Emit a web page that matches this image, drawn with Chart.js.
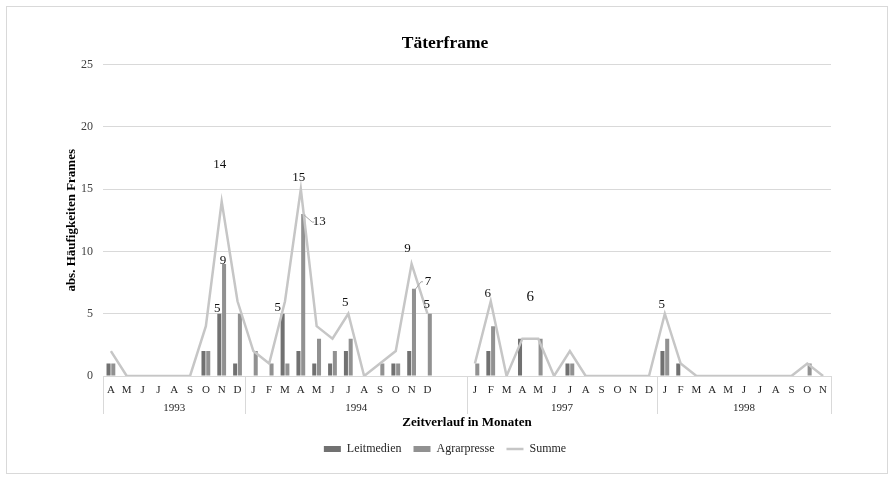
<!DOCTYPE html>
<html><head><meta charset="utf-8">
<script src="https://cdn.jsdelivr.net/npm/chart.js@4.4.0/dist/chart.umd.min.js"></script>
<style>html,body{margin:0;padding:0;background:#fff}canvas{display:block}</style>
</head><body>
<canvas id="c" width="895" height="480"></canvas>
<script>
// ---- data ----
const months = ['A','M','J','J','A','S','O','N','D',
  'J','F','M','A','M','J','J','A','S','O','N','D','','',
  'J','F','M','A','M','J','J','A','S','O','N','D',
  'J','F','M','A','M','J','J','A','S','O','N'];
const yearLabels = ['1993','1994','1997','1998'];
const yearMonthCounts = [9, 14, 12, 11];
const leitmedien = [1,0,0,0,0,0,2,5,1,
  0,0,5,2,1,1,2,0,0,1,2,0,null,null,
  0,2,0,3,0,0,1,0,0,0,0,0,
  2,1,0,0,0,0,0,0,0,0,0];
const agrarpresse = [1,0,0,0,0,0,2,9,5,
  2,1,1,13,3,2,3,0,1,1,7,5,null,null,
  1,4,0,0,3,0,1,0,0,0,0,0,
  3,0,0,0,0,0,0,0,0,1,0];
const summe = [2,0,0,0,0,0,4,14,6,
  2,1,6,15,4,3,5,0,1,2,9,5,null,null,
  1,6,0,3,3,0,2,0,0,0,0,0,
  5,1,0,0,0,0,0,0,0,1,0];
const yMax = 25, yStep = 5;

// labels shown on the chart (dataset index, category index) and a stray label
const valueLabels = [
  {ds:2,i:7,dx:-2,dy:-37},
  {ds:1,i:7,dx:-1,dy:-3},
  {ds:0,i:7,dx:-2,dy:-5},
  {ds:0,i:11,dx:-5,dy:-6},
  {ds:2,i:12,dx:-2,dy:-12},
  {ds:1,i:12,dx:16,dy:8,leader:true},
  {ds:2,i:15,dx:-3,dy:-11},
  {ds:2,i:19,dx:-4,dy:-15},
  {ds:1,i:19,dx:14,dy:-7,leader:true},
  {ds:1,i:20,dx:-3,dy:-9},
  {ds:2,i:24,dx:-3,dy:-8},
  {ds:2,i:35,dx:-3,dy:-9}
];
const strayLabels = [{text:'6', at:26.5, value:6.3}];

const FONT = "'Liberation Serif', 'Times New Roman', serif";
Chart.defaults.font.family = FONT;
Chart.defaults.color = '#262626';

const framePlugin = {
  id:'frame',
  beforeDraw(chart){
    const ctx = chart.ctx;
    ctx.save();
    ctx.fillStyle = '#fff';
    ctx.fillRect(0,0,chart.width,chart.height);
    ctx.strokeStyle = '#d9d9d9';
    ctx.lineWidth = 1;
    ctx.strokeRect(6.5,6.5,881,467);
    ctx.restore();
  }
};

const yearPlugin = {
  id:'years',
  afterDraw(chart){
    const x = chart.scales.x, ctx = chart.ctx;
    const half = (x.getPixelForValue(1)-x.getPixelForValue(0))/2;
    const top = chart.chartArea.bottom, bot = top + 38;
    ctx.save();
    ctx.strokeStyle = '#d9d9d9'; ctx.lineWidth = 1;
    ctx.fillStyle = '#262626';
    ctx.font = '11px ' + FONT;
    ctx.textAlign = 'center'; ctx.textBaseline = 'middle';
    let start = 0;
    yearLabels.forEach((lab,g)=>{
      const end = start + yearMonthCounts[g] - 1;
      const l = x.getPixelForValue(start) - half;
      const r = x.getPixelForValue(end) + half;
      const lines = g === yearLabels.length-1 ? [l,r] : [l];
      lines.forEach(px=>{
        const xx = Math.round(px)+0.5;
        ctx.beginPath(); ctx.moveTo(xx,top); ctx.lineTo(xx,bot); ctx.stroke();
      });
      ctx.fillText(lab,(l+r)/2,top+32);
      start = end + 1;
    });
    ctx.restore();
  }
};

const labelPlugin = {
  id:'vlabels',
  afterDatasetsDraw(chart){
    const ctx = chart.ctx;
    ctx.save();
    ctx.fillStyle = '#111';
    ctx.textAlign = 'center'; ctx.textBaseline = 'middle';
    ctx.font = '13px ' + FONT;
    valueLabels.forEach(s=>{
      const el = chart.getDatasetMeta(s.ds).data[s.i];
      const v = chart.data.datasets[s.ds].data[s.i];
      const lx = el.x + s.dx, ly = el.y + s.dy;
      if (s.leader){
        ctx.save();
        ctx.strokeStyle = '#a6a6a6'; ctx.lineWidth = 1;
        ctx.beginPath(); ctx.moveTo(el.x+1, el.y+1); ctx.lineTo(lx-7, ly); ctx.lineTo(lx-5, ly); ctx.stroke();
        ctx.restore();
      }
      ctx.fillText(String(v), lx, ly);
    });
    ctx.font = '15px ' + FONT;
    strayLabels.forEach(s=>{
      ctx.fillText(s.text, chart.scales.x.getPixelForValue(s.at), chart.scales.y.getPixelForValue(s.value));
    });
    ctx.restore();
  }
};

new Chart(document.getElementById('c'), {
  data:{
    labels: months,
    datasets:[
      {type:'bar', label:'Leitmedien', data:leitmedien, backgroundColor:'#717171', order:1,
        barPercentage:0.85, categoryPercentage:0.6},
      {type:'bar', label:'Agrarpresse', data:agrarpresse, backgroundColor:'#919191', order:1,
        barPercentage:0.85, categoryPercentage:0.6},
      {type:'line', label:'Summe', data:summe, borderColor:'#c6c6c6', backgroundColor:'#c6c6c6',
        borderWidth:2.5, pointRadius:0, pointHoverRadius:0, tension:0, spanGaps:false, order:0}
    ]
  },
  options:{
    responsive:false, animation:false, devicePixelRatio:1,
    layout:{padding:{left:6,right:11,top:6,bottom:15}},
    plugins:{
      title:{display:true, text:'Täterframe', color:'#000',
        font:{size:17.5, weight:'bold', family:FONT}, padding:{top:27,bottom:10.6}},
      legend:{position:'bottom',
        labels:{usePointStyle:true, pointStyleWidth:17, boxHeight:6, padding:12,
          color:'#262626', font:{size:12, family:FONT},
          sort:(a,b)=>a.datasetIndex-b.datasetIndex,
          generateLabels(chart){
            const items = Chart.defaults.plugins.legend.labels.generateLabels(chart);
            items.forEach(it=>{
              const ds = chart.data.datasets[it.datasetIndex];
              if (ds.type === 'line'){ it.pointStyle='line'; it.lineWidth=2.5; it.strokeStyle=ds.borderColor; }
              else { it.pointStyle='rect'; it.lineWidth=0; it.fillStyle=ds.backgroundColor; }
            });
            return items;
          }}},
      tooltip:{enabled:false}
    },
    scales:{
      x:{
        grid:{display:false, drawTicks:false},
        border:{display:true, color:'#d9d9d9'},
        ticks:{autoSkip:false, maxRotation:0, minRotation:0, padding:8, color:'#262626', font:{size:11}},
        title:{display:true, text:'Zeitverlauf in Monaten', color:'#000', font:{size:13, weight:'bold'}, padding:{top:0,bottom:1}},
        afterFit(s){ s.height = 55; }
      },
      y:{
        min:0, max:yMax,
        grid:{color:'#d9d9d9', drawTicks:false},
        border:{display:false},
        ticks:{stepSize:yStep, padding:10, color:'#404040', font:{size:12}},
        title:{display:true, text:'abs. Häufigkeiten Frames', color:'#000', font:{size:13, weight:'bold'}, padding:{top:58,bottom:0}},
        afterFit(s){ s.width = 97; }
      },
      yRight:{
        position:'right', min:0, max:yMax, display:true,
        grid:{display:false, drawTicks:false}, border:{display:false},
        ticks:{display:false},
        afterFit(s){ s.width = 53; }
      }
    }
  },
  plugins:[framePlugin, yearPlugin, labelPlugin]
});
</script>
</body></html>
